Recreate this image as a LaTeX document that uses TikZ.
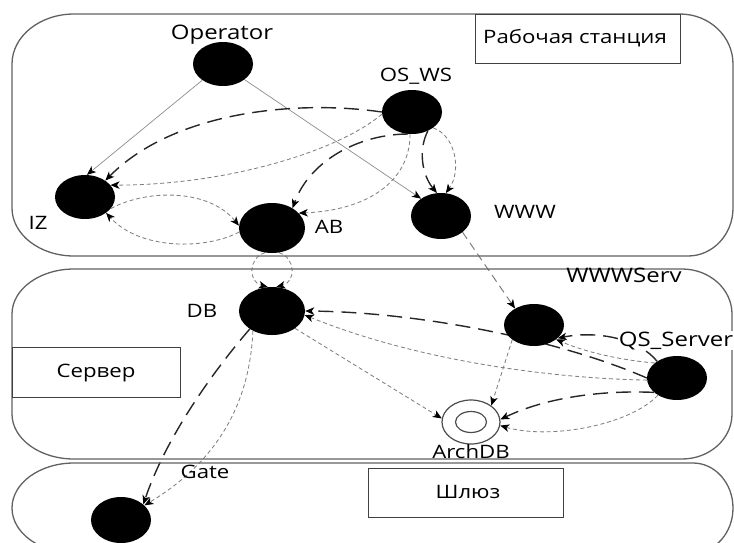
\documentclass[tikz,border=0pt]{standalone}
\usepackage{fontspec}
\setmainfont{Open Sans}[FakeStretch=1.2]
\usetikzlibrary{arrows.meta,shapes.geometric}
\pgfdeclarelayer{bg}
\pgfsetlayers{bg,main}
\begin{document}
\begin{tikzpicture}[x=1pt,y=-1pt,
  blob/.style={ellipse,fill=black,draw=none,inner sep=0pt,minimum width=60pt,minimum height=44pt},
  lbl/.style={font=\fontsize{18.5}{20}\selectfont,inner sep=0pt,anchor=base},
  biglbl/.style={font=\fontsize{20}{22}\selectfont,inner sep=0pt,anchor=base},
  regionbox/.style={draw=black!62,line width=1.3pt},
  tagbox/.style={draw=black!75,line width=1pt},
  arrowhd/.style={-{Stealth[length=9pt,width=7.5pt,inset=2.5pt,color=black]}},
  solidg/.style={draw=black!45,line width=0.7pt,arrowhd},
  longd/.style={draw=black!85,line width=1.4pt,dash pattern=on 15pt off 8pt,arrowhd},
  shortd/.style={draw=black!50,line width=0.85pt,dash pattern=on 4pt off 2.8pt,arrowhd},
  medd/.style={draw=black!55,line width=0.9pt,dash pattern=on 8pt off 5pt,arrowhd},
]
\useasboundingbox (0,0) rectangle (734,542);

% regions
\draw[regionbox] (74,14) -- (680,14) arc[start angle=-90,end angle=0,x radius=53,y radius=50]
  -- (733,208) arc[start angle=0,end angle=90,x radius=45,y radius=48]
  -- (74,256) arc[start angle=90,end angle=180,x radius=62,y radius=48]
  -- (12,64) arc[start angle=180,end angle=270,x radius=62,y radius=50] -- cycle;
\draw[regionbox] (74,269) -- (682,269) arc[start angle=-90,end angle=0,x radius=50,y radius=45]
  -- (732,414) arc[start angle=0,end angle=90,x radius=50,y radius=45]
  -- (74,459) arc[start angle=90,end angle=180,x radius=62,y radius=45]
  -- (12,314) arc[start angle=180,end angle=270,x radius=62,y radius=45] -- cycle;
\begin{scope}
\clip (0,0) rectangle (734,542);
\draw[regionbox] (74,463) -- (693,463) arc[start angle=-90,end angle=0,x radius=40,y radius=45]
  arc[start angle=0,end angle=90,x radius=40,y radius=45]
  -- (74,553) arc[start angle=90,end angle=180,x radius=62,y radius=45]
  arc[start angle=180,end angle=270,x radius=62,y radius=45] -- cycle;
\end{scope}

% tag boxes
\draw[tagbox] (475,14) rectangle (680,63);
\node[lbl] (tws) at (575,43) {Рабочая станция};
\draw[tagbox] (12,347) rectangle (180,397);
\node[lbl] (tsrv) at (96,377) {Сервер};
\draw[tagbox] (368,468) rectangle (563,517);
\node[lbl] (tgw) at (468,498) {Шлюз};

% nodes
\node[blob] (op) at (223,64) {};
\node[blob] (iz) at (85,197) {};
\node[blob,minimum width=66pt,minimum height=50pt] (ab) at (272,228) {};
\node[blob] (os) at (412,112) {};
\node[blob,minimum height=46pt] (www) at (441,216) {};
\node[blob,minimum width=66pt,minimum height=48pt] (db) at (272,311) {};
\node[blob,minimum height=46pt] (gate) at (121,520) {};
\node[blob,minimum height=42pt] (wsrv) at (534,325) {};
\node[blob] (qs) at (677,378) {};
\node[ellipse,draw=black!70,line width=1.2pt,fill=white,minimum width=58pt,minimum height=44pt,inner sep=0pt] (arch) at (471,422) {};
\node[ellipse,draw=black!70,line width=1.2pt,minimum width=31pt,minimum height=21pt,inner sep=0pt] (archin) at (471,422) {};

% labels
\node[biglbl] (lop) at (222,39) {Operator};
\node[lbl] (los) at (416,81) {OS\_WS};
\node[lbl] (lwww) at (525,218) {WWW};
\node[lbl] (liz) at (38,229) {IZ};
\node[lbl] (lab) at (329,233) {AB};
\node[lbl] (ldb) at (202,317) {DB};
\node[biglbl] (lwsrv) at (624,282) {WWWServ};
\node[biglbl,fill=white,inner sep=0.5pt] (lqs) at (676,346) {QS\_Server};
\node[lbl] (larch) at (471,458) {ArchDB};
\node[lbl] (lgate) at (205,478) {Gate};

% connectors
\begin{pgfonlayer}{bg}
\draw[solidg] (op.218) -- (iz.85);
\draw[solidg] (op.324) -- (www.139);
\draw[longd] (os.180) .. controls (300,100) and (175,110) .. (iz.39);
\draw[shortd] (os.184) .. controls (340,150) and (230,185) .. (iz.25);
\draw[longd] (os.260) .. controls (360,134) and (310,160) .. (ab.44);
\draw[shortd] (os.265) .. controls (410,180) and (370,210) .. (ab.29);
\draw[longd] (os.310) .. controls (418,150) and (422,175) .. (www.100);
\draw[shortd] (os.323) .. controls (455,135) and (462,170) .. (www.78);
\draw[shortd] (iz.336) .. controls (150,188) and (210,190) .. (ab.176);
\draw[shortd] (ab.187) .. controls (205,250) and (140,250) .. (iz.323);
\draw[shortd] (ab.254) .. controls (248,258) and (248,282) .. (db.100);
\draw[shortd] (ab.286) .. controls (296,258) and (296,282) .. (db.80);
\draw[medd] (www.323) -- (wsrv.139);
\draw[longd] (qs.180) .. controls (560,340) and (420,312) .. (db.0);
\draw[longd] (qs.140) .. controls (640,340) and (600,330) .. (wsrv.331);
\draw[shortd] (qs.146) .. controls (620,360) and (585,352) .. (wsrv.327);
\draw[shortd] (qs.184) .. controls (540,378) and (410,358) .. (db.353);
\draw[shortd] (db.323) -- (arch.173);
\draw[shortd] (wsrv.214) -- (arch.39);
\draw[longd] (qs.212) .. controls (600,390) and (545,398) .. (arch.5);
\draw[shortd] (qs.222) .. controls (630,425) and (550,440) .. (arch.353);
\draw[longd] (db.219) .. controls (210,375) and (165,440) .. (gate.35);
\draw[shortd] (db.226) .. controls (250,400) and (220,460) .. (gate.32);
\end{pgfonlayer}
\end{tikzpicture}
\end{document}
